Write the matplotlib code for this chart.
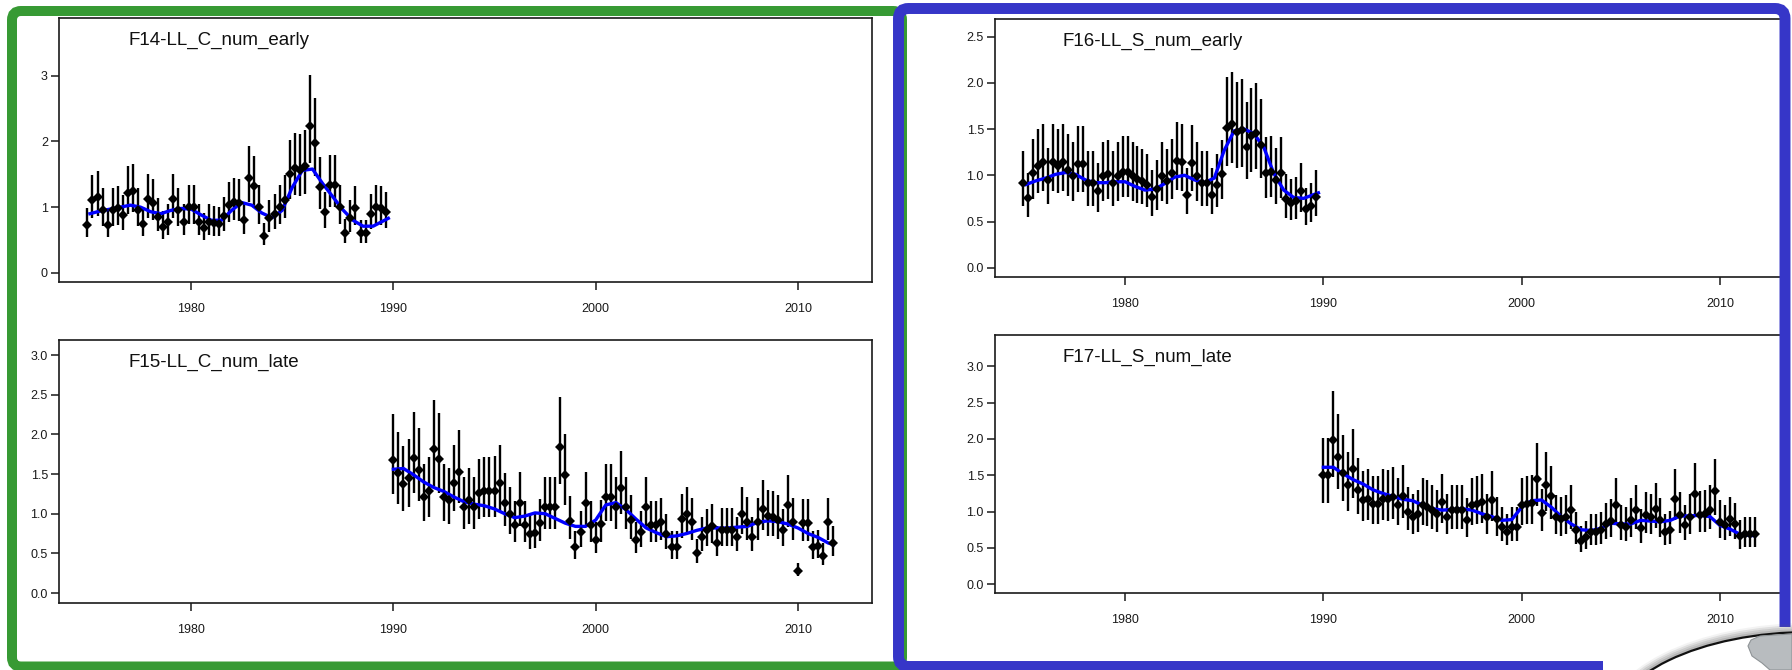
import numpy as np
import matplotlib
matplotlib.use("Agg")
import matplotlib.pyplot as plt
from matplotlib.patches import FancyBboxPatch, Ellipse, Rectangle, Polygon

plt.rcParams["font.family"] = ["Liberation Sans", "DejaVu Sans"]

W, H = 1792, 670

# ============================================================
# Data (quarterly standardised CPUE)
# ============================================================
early_start = 1974.875
late_start = 1990.0

f14_cpue = [0.73, 1.11, 1.16, 0.96, 0.73, 0.96, 0.98, 0.88, 1.21, 1.24,
            0.96, 0.75, 1.12, 1.07, 0.85, 0.70, 0.78, 1.12, 0.96, 0.78,
            1.00, 1.00, 0.78, 0.68, 0.78, 0.76, 0.75, 0.86, 1.03, 1.08,
            1.06, 0.80, 1.44, 1.32, 1.00, 0.56, 0.83, 0.89, 1.00, 1.11,
            1.51, 1.59, 1.57, 1.62, 2.24, 1.98, 1.31, 0.92, 1.34, 1.34,
            1.00, 0.61, 0.83, 0.98, 0.60, 0.60, 0.89, 1.00, 0.98, 0.92]

f16_cpue = [0.92, 0.75, 1.02, 1.10, 1.14, 0.95, 1.14, 1.10, 1.14, 1.06,
            0.99, 1.12, 1.12, 0.92, 0.92, 0.83, 0.99, 1.01, 0.92, 0.99,
            1.04, 1.04, 0.99, 0.96, 0.94, 0.90, 0.77, 0.85, 0.99, 0.94,
            1.02, 1.15, 1.14, 0.79, 1.13, 0.99, 0.92, 0.92, 0.79, 0.90,
            1.01, 1.51, 1.55, 1.47, 1.49, 1.31, 1.42, 1.46, 1.33, 1.03,
            1.04, 0.95, 1.03, 0.74, 0.70, 0.72, 0.83, 0.63, 0.67, 0.77]

f15_cpue = [1.68, 1.51, 1.38, 1.45, 1.70, 1.55, 1.21, 1.28, 1.81, 1.69,
            1.21, 1.17, 1.39, 1.53, 1.09, 1.17, 1.09, 1.26, 1.28, 1.28,
            1.29, 1.39, 1.13, 1.00, 0.86, 1.14, 0.86, 0.75, 0.76, 0.88,
            1.09, 1.09, 1.09, 1.84, 1.49, 0.91, 0.58, 0.77, 1.14, 0.86,
            0.67, 0.87, 1.21, 1.21, 1.09, 1.33, 1.09, 0.92, 0.67, 0.77,
            1.09, 0.86, 0.86, 0.89, 0.74, 0.58, 0.58, 0.93, 1.00, 0.89,
            0.51, 0.71, 0.79, 0.84, 0.63, 0.80, 0.80, 0.80, 0.71, 1.00,
            0.90, 0.71, 0.89, 1.06, 0.97, 0.96, 0.92, 0.79, 1.11, 0.89,
            0.28, 0.88, 0.88, 0.58, 0.59, 0.47, 0.89, 0.63]

f17_cpue = [1.50, 1.50, 1.98, 1.75, 1.53, 1.36, 1.59, 1.30, 1.16, 1.18,
            1.11, 1.11, 1.18, 1.17, 1.20, 1.09, 1.22, 1.00, 0.93, 0.97,
            1.09, 1.07, 1.02, 0.97, 1.13, 0.93, 1.02, 1.02, 1.02, 0.88,
            1.09, 1.11, 1.13, 0.93, 1.16, 0.90, 0.79, 0.72, 0.79, 0.79,
            1.09, 1.11, 1.12, 1.45, 0.98, 1.36, 1.21, 0.92, 0.90, 0.92,
            1.02, 0.74, 0.60, 0.65, 0.72, 0.72, 0.74, 0.83, 0.87, 1.09,
            0.81, 0.79, 0.88, 1.02, 0.77, 0.95, 0.93, 1.04, 0.88, 0.72,
            0.75, 1.18, 0.95, 0.81, 0.93, 1.24, 0.96, 0.97, 1.02, 1.28,
            0.86, 0.81, 0.90, 0.83, 0.66, 0.69, 0.69, 0.69]

# CV used for the 95% lognormal intervals
f14_cv, f15_cv, f16_cv, f17_cv = 0.15, 0.15, 0.16, 0.15

# smoother (blue line), read every half year
early_smooth_yrs = list(np.arange(1975.0, 1990.0, 0.5)) + [1989.75]
late_smooth_yrs = list(np.arange(1990.0, 2012.0, 0.5)) + [2011.75]

f14_smooth = [0.90, 0.94, 0.97, 1.00, 1.03, 1.00, 0.93, 0.90, 0.95, 0.98,
              0.97, 0.88, 0.80, 0.80, 0.95, 1.07, 1.03, 0.91, 0.84, 0.95,
              1.30, 1.56, 1.58, 1.36, 1.16, 0.96, 0.80, 0.71, 0.71, 0.79, 0.83]
f16_smooth = [0.90, 0.94, 0.97, 1.01, 1.03, 1.01, 0.95, 0.92, 0.92, 0.93,
              0.93, 0.88, 0.84, 0.85, 0.91, 0.98, 1.00, 0.95, 0.92, 0.97,
              1.27, 1.48, 1.50, 1.45, 1.30, 1.02, 0.84, 0.76, 0.75, 0.79, 0.81]
f15_smooth = [1.56, 1.57, 1.49, 1.40, 1.33, 1.28, 1.21, 1.15, 1.12, 1.10,
              1.06, 1.00, 0.95, 0.97, 1.01, 1.00, 0.94, 0.88, 0.84, 0.84,
              0.92, 1.11, 1.14, 1.05, 0.93, 0.82, 0.76, 0.71, 0.72, 0.75,
              0.79, 0.82, 0.82, 0.82, 0.83, 0.84, 0.89, 0.91, 0.90, 0.87,
              0.82, 0.75, 0.70, 0.63, 0.61]
f17_smooth = [1.61, 1.61, 1.52, 1.44, 1.38, 1.30, 1.25, 1.21, 1.17, 1.15,
              1.09, 1.04, 1.02, 1.03, 1.04, 1.02, 0.97, 0.93, 0.88, 0.89,
              1.06, 1.15, 1.16, 1.06, 0.93, 0.83, 0.75, 0.74, 0.77, 0.84,
              0.83, 0.83, 0.88, 0.87, 0.86, 0.88, 0.94, 0.94, 0.95, 0.93,
              0.81, 0.76, 0.69, 0.67, 0.67]

year_ticks = [1980, 1990, 2000, 2010]

# ============================================================
# Figure
# ============================================================
fig = plt.figure(figsize=(W / 100, H / 100), dpi=100, facecolor='white')


def px_rect(left, top, right, bottom):
    return [left / W, 1 - bottom / H, (right - left) / W, (bottom - top) / H]


def panel(rect, start, cpue, cv, sm_yrs, sm, title, xlim, ylim, yticks, ylabels):
    ax = fig.add_axes(rect)
    cpue = np.asarray(cpue)
    yrs = start + 0.25 * np.arange(len(cpue))
    lo = cpue * np.exp(-1.96 * cv)
    hi = cpue * np.exp(1.96 * cv)
    ax.vlines(yrs, lo, hi, color='black', lw=1.7, zorder=2)
    ax.plot(sm_yrs, sm, color='#0000ff', lw=2.4, zorder=3)
    ax.plot(yrs, cpue, 'D', color='black', ms=4.8, mew=0, zorder=4)
    ax.set_xlim(*xlim)
    ax.set_ylim(*ylim)
    ax.set_xticks(year_ticks)
    ax.set_xticklabels([str(y) for y in year_ticks])
    ax.set_yticks(yticks)
    ax.set_yticklabels(ylabels)
    for s in ax.spines.values():
        s.set_linewidth(1.2)
        s.set_color('#1a1a1a')
    ax.tick_params(axis='both', direction='out', length=6, width=1.1,
                   color='#1a1a1a', labelsize=9, labelcolor='#1a1a1a')
    ax.tick_params(axis='x', pad=9)
    ax.tick_params(axis='y', pad=2)
    ax.text(0.085, 0.915, title, transform=ax.transAxes, fontsize=13.5,
            va='center', ha='left', color='#111111')
    return ax


half = [0.0, 0.5, 1.0, 1.5, 2.0, 2.5, 3.0]
half_lab = ['%.1f' % v for v in half]

panel(px_rect(59, 18, 872, 282), early_start, f14_cpue, f14_cv,
      early_smooth_yrs, f14_smooth, 'F14-LL_C_num_early',
      (1973.47, 2013.66), (-0.14, 3.88), [0, 1, 2, 3], ['0', '1', '2', '3'])

panel(px_rect(59, 340, 872, 603), late_start, f15_cpue, f15_cv,
      late_smooth_yrs, f15_smooth, 'F15-LL_C_num_late',
      (1973.47, 2013.66), (-0.126, 3.19), half, half_lab)

panel(px_rect(995, 19, 1786, 277), early_start, f16_cpue, f16_cv,
      early_smooth_yrs, f16_smooth, 'F16-LL_S_num_early',
      (1973.44, 2013.33), (-0.10, 2.69), half[:6], half_lab[:6])

panel(px_rect(995, 335, 1786, 593), late_start, f17_cpue, f17_cv,
      late_smooth_yrs, f17_smooth, 'F17-LL_S_num_late',
      (1973.44, 2013.33), (-0.12, 3.43), half, half_lab)

# ============================================================
# Coloured frames and corner decoration (pixel coordinates)
# ============================================================
ov = fig.add_axes([0, 0, 1, 1], zorder=10)
ov.set_xlim(0, W)
ov.set_ylim(H, 0)
ov.axis('off')
ov.patch.set_alpha(0)

green = '#379a34'
blue = '#3636c8'

# green frame: its right side sits underneath the blue one
ov.add_patch(FancyBboxPatch((12, 11), 902 - 12, 666.5 - 11,
                            boxstyle='round,pad=0,rounding_size=9',
                            lw=7.2, ec=green, fc='none'))
ov.add_patch(FancyBboxPatch((898.5, 8.5), 1785 - 898.5, 666.5 - 8.5,
                            boxstyle='round,pad=0,rounding_size=10',
                            lw=7.9, ec=blue, fc='none'))

# globe picture pasted over the bottom-right corner
ov.add_patch(Rectangle((1603, 627), W - 1603, H - 627, fc='white', ec='none'))
for k, a in enumerate([0.08, 0.14, 0.22, 0.30]):
    ov.add_patch(Ellipse((1810, 729), 400 + 14 - 4 * k, 194 + 14 - 4 * k,
                         fc='none', ec='#666666', lw=3.0, alpha=a))
globe = Ellipse((1810, 729), 400, 194, fc='white', ec='#111111', lw=1.6)
ov.add_patch(globe)
land = Polygon([(1748, 646), (1751, 640), (1760, 636), (1775, 635), (1792, 634),
                (1792, 670), (1770, 670), (1762, 663), (1752, 656)],
               closed=True, fc='#b8bcbf', ec='#8e9396', lw=0.8)
ov.add_patch(land)
land.set_clip_path(globe)

fig.savefig('out.png', dpi=100, facecolor='white')
